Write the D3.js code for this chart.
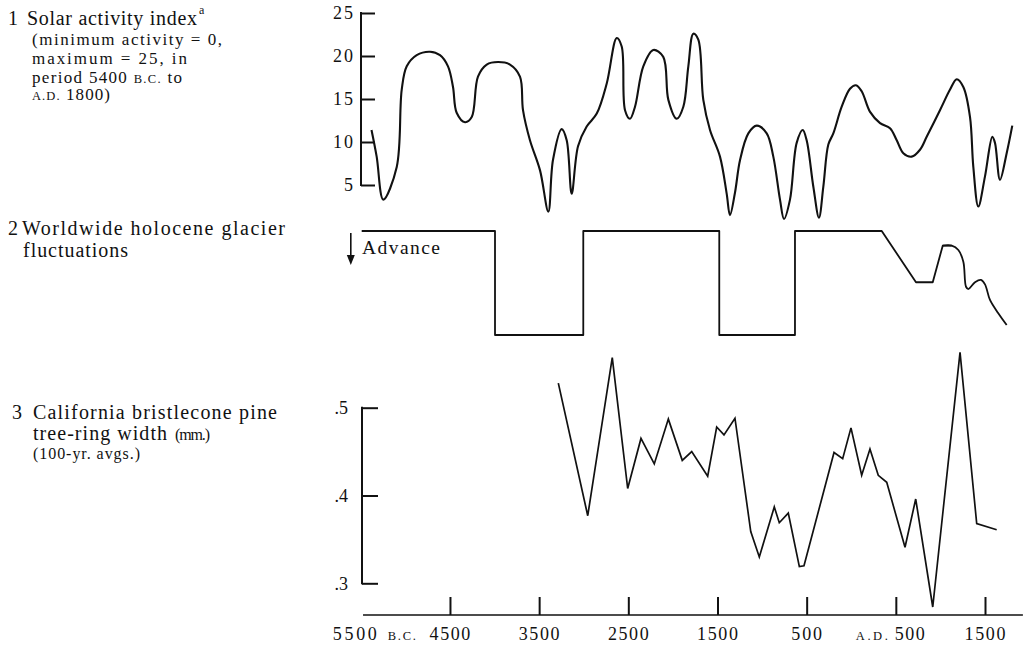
<!DOCTYPE html>
<html><head><meta charset="utf-8">
<script src="https://cdn.jsdelivr.net/npm/d3@7"></script>
<style>
body{margin:0;background:#fff}
svg{display:block}
text{font-family:"Liberation Serif","Times New Roman",serif;fill:#111}
</style>
</head><body><svg id="c" width="1032" height="645"></svg>
<script>
// ---- data (years: negative = B.C.) ----
const solarYears = [-5380,-5322,-5248,-5097,-5041,-4985,-4873,-4724,-4612,-4522,-4466,-4425,-4331,-4256,-4186,-4088,-3961,-3827,-3715,-3681,-3603,-3490,-3397,-3345,-3247,-3191,-3135,-3064,-2967,-2854,-2742,-2630,-2574,-2537,-2481,-2425,-2332,-2220,-2108,-2051,-1957,-1883,-1827,-1771,-1715,-1659,-1584,-1472,-1397,-1360,-1304,-1247,-1154,-1060,-948,-874,-799,-754,-687,-612,-544,-500,-425,-362,-313,-257,-201,-107,-14,53,117,211,323,435,510,584,678,771,846,995,1108,1183,1257,1332,1369,1425,1500,1582,1612,1668,1743,1806];
const solarValues = [11.4,8.3,3.3,7.1,16.1,18.8,20.1,20.5,20.1,18.8,16.4,13.4,12.3,12.9,17.6,19.0,19.3,19.0,17.6,13.7,10.2,6.7,1.9,7.9,11.5,10.2,4.0,9.5,11.8,13.3,16.8,22.1,21.1,13.7,12.7,14.1,18.8,20.7,19.9,14.9,12.7,14.1,18.8,22.6,21.9,14.9,11.4,8.3,4.0,1.5,4.1,7.9,11.0,11.9,11.0,8.3,3.3,1.05,3.3,9.9,11.4,10.2,4.8,1.2,4.8,9.7,11.0,14.1,16.2,16.6,15.9,13.5,12.2,11.6,10.2,8.7,8.3,9.1,10.6,13.7,16.1,17.3,16.4,12.9,7.1,2.5,6.0,10.6,9.9,5.6,8.7,11.9];
const solarTicks = [25,20,15,10,5];

// glacier: 0 = no advance, 1 = advance
const glacierYears = [-5490,-3995,-3995,-3005,-3005,-1480,-1480,-631,-631,342,726,914,1026,1127,1201,1257,1287,1313,1388,1455,1500,1556,1649,1743];
const glacierValues = [0,0,1,1,0,0,1,1,0,0,0.493,0.493,0.141,0.141,0.183,0.295,0.536,0.558,0.493,0.471,0.513,0.663,0.791,0.904];

const treeYears = [-3285,-2955,-2680,-2507,-2358,-2209,-2051,-1895,-1789,-1610,-1509,-1427,-1304,-1127,-1031,-863,-807,-706,-582,-530,-193,-96,-3,117,210,303,398,603,723,914,1220,1407,1631];
const treeValues = [0.528,0.377,0.557,0.408,0.465,0.436,0.487,0.440,0.450,0.422,0.478,0.469,0.488,0.359,0.330,0.387,0.369,0.380,0.319,0.320,0.449,0.442,0.477,0.423,0.453,0.423,0.415,0.341,0.396,0.273,0.563,0.368,0.361];
const treeTicks = [0.5,0.4,0.3];
const treeTickLabels = [".5",".4",".3"];

const bottomTickYears = [-4500,-3500,-2500,-1500,-500,500,1500];
const bottomLabelYears = [-4500,-3500,-2500,-1500,-500,1500];
const bottomLabels = ["4500","3500","2500","1500","500","1500"];

// ---- drawing ----
const svg = d3.select("#c");
const ink = "#111";
const x = d3.scaleLinear().domain([-5500,1500]).range([360.8,985]);
const ySolar = d3.scaleLinear().domain([0,25]).range([228,13]);
const yGlacier = d3.scaleLinear().domain([0,1]).range([231,335]);
const yTree = d3.scaleLinear().domain([0.3,0.5]).range([583.3,407.7]);
const axisX = 361;
const FS = 18;

function styleAxis(g, stretch){
  g.select(".domain").remove();
  g.selectAll(".tick line").attr("stroke",ink).attr("stroke-width",2);
  const t = g.selectAll(".tick text").attr("font-size",FS).attr("fill",ink)
   .style("font-family",'"Liberation Serif","Times New Roman",serif');
  if(stretch) t.attr("textLength",function(){return this.textContent.length*10;}).attr("lengthAdjust","spacing");
}

// Panel 1 axis
const ga = svg.append("g").attr("transform",`translate(${axisX},0)`)
  .call(d3.axisLeft(ySolar).tickValues(solarTicks).tickSizeInner(-14).tickSizeOuter(0).tickPadding(8).tickFormat(d3.format("d")));
styleAxis(ga, true);
ga.append("line").attr("x1",0).attr("x2",0).attr("y1",ySolar(25)-1).attr("y2",ySolar(5)+1).attr("stroke",ink).attr("stroke-width",2);

// Panel 1 curve
const solarData = solarYears.map((yr,i)=>[yr,solarValues[i]]);
svg.append("path").datum(solarData)
  .attr("d",d3.line().x(d=>x(d[0])).y(d=>ySolar(d[1])).curve(d3.curveCatmullRom.alpha(0.5)))
  .attr("fill","none").attr("stroke",ink).attr("stroke-width",2.1).attr("stroke-linejoin","round");

// Panel 2 glacier
const glacierData = glacierYears.map((yr,i)=>[yr,glacierValues[i]]);
const split = 13;
svg.append("path").datum(glacierData.slice(0,split+1))
  .attr("d",d3.line().x(d=>x(d[0])).y(d=>yGlacier(d[1])))
  .attr("fill","none").attr("stroke",ink).attr("stroke-width",1.8).attr("stroke-linejoin","round");
svg.append("path").datum(glacierData.slice(split-1))
  .attr("d",d3.line().x(d=>x(d[0])).y(d=>yGlacier(d[1])).curve(d3.curveCatmullRom.alpha(0.5)))
  .attr("fill","none").attr("stroke",ink).attr("stroke-width",1.8).attr("stroke-linejoin","round");

// Advance arrow + label
const ax = x(-5500)-10;
svg.append("line").attr("x1",ax).attr("x2",ax).attr("y1",233).attr("y2",257).attr("stroke",ink).attr("stroke-width",1.6);
svg.append("path").attr("d",`M${ax-4},${255}L${ax+4},${255}L${ax},${265}Z`).attr("fill",ink);
svg.append("text").attr("x",362).attr("y",254).attr("font-size",19.5).attr("textLength",78).attr("lengthAdjust","spacing").text("Advance");

// Panel 3 axis
const gt = svg.append("g").attr("transform",`translate(${axisX+1},0)`)
  .call(d3.axisLeft(yTree).tickValues(treeTicks).tickSizeInner(-16).tickSizeOuter(0).tickPadding(14).tickFormat((d,i)=>treeTickLabels[i]));
styleAxis(gt, false);
gt.append("line").attr("x1",0).attr("x2",0).attr("y1",yTree(0.5)-1).attr("y2",yTree(0.3)+1).attr("stroke",ink).attr("stroke-width",2);

const treeData = treeYears.map((yr,i)=>[yr,treeValues[i]]);
svg.append("path").datum(treeData)
  .attr("d",d3.line().x(d=>x(d[0])).y(d=>yTree(d[1])))
  .attr("fill","none").attr("stroke",ink).attr("stroke-width",1.7).attr("stroke-linejoin","miter");

// Bottom time axis
const baseY = 615;
const gb = svg.append("g").attr("transform",`translate(0,${baseY})`)
  .call(d3.axisBottom(x).tickValues(bottomTickYears).tickSizeInner(-18).tickSizeOuter(0).tickFormat(""));
styleAxis(gb, false);
svg.append("line").attr("x1",x(-5475)).attr("x2",x(1925)).attr("y1",baseY).attr("y2",baseY).attr("stroke",ink).attr("stroke-width",1.6);
svg.append("g").selectAll("text").data(bottomLabelYears).join("text")
  .attr("x",d=>x(d)).attr("y",640).attr("text-anchor","middle").attr("font-size",FS)
  .attr("textLength",(d,i)=>bottomLabels[i].length*10.2).attr("lengthAdjust","spacing")
  .text((d,i)=>bottomLabels[i]);
svg.append("text").attr("x",x(-5500)-6).attr("y",640).attr("text-anchor","middle").attr("font-size",FS)
  .attr("textLength",44).attr("lengthAdjust","spacing").text("5500");
svg.append("text").attr("x",x(-5500)+27).attr("y",640).attr("font-size",12.5)
  .attr("textLength",28).attr("lengthAdjust","spacing").text("B.C.");
svg.append("text").attr("x",x(500)-40).attr("y",640).attr("font-size",12.5)
  .attr("textLength",32).attr("lengthAdjust","spacing").text("A.D.");
svg.append("text").attr("x",x(500)-1).attr("y",640).attr("font-size",FS)
  .attr("textLength",30).attr("lengthAdjust","spacing").text("500");

// Left labels
function lbl(xp,yp,size,str,len){
  const t = svg.append("text").attr("x",xp).attr("y",yp).attr("font-size",size).text(str);
  if(len) t.attr("textLength",len).attr("lengthAdjust","spacing");
  return t;
}
lbl(8,25,20,"1");
lbl(27,25,20,"Solar activity index",170);
lbl(199,14,12,"a");
lbl(32,45,17,"(minimum activity = 0,",190);
lbl(32,64,17,"maximum = 25, in",155);
const pl = svg.append("text").attr("x",32).attr("y",83).attr("font-size",17)
  .attr("textLength",150).attr("lengthAdjust","spacing");
pl.append("tspan").text("period 5400 ");
pl.append("tspan").attr("font-size",12.5).text("B.C.");
pl.append("tspan").text(" to");
const al = svg.append("text").attr("x",32).attr("y",100).attr("font-size",17)
  .attr("textLength",78).attr("lengthAdjust","spacing");
al.append("tspan").attr("font-size",12.5).text("A.D.");
al.append("tspan").text(" 1800)");

lbl(8,235,20,"2");
lbl(22,235,20,"Worldwide holocene glacier",263);
lbl(23,257,20,"fluctuations",105);

lbl(12,419,20,"3");
lbl(33,419,20,"California bristlecone pine",244);
lbl(33,440,20,"tree-ring width",134);
lbl(175,440,16,"(mm.)",35);
lbl(33,459,16,"(100-yr. avgs.)",107);
</script>
</body></html>
